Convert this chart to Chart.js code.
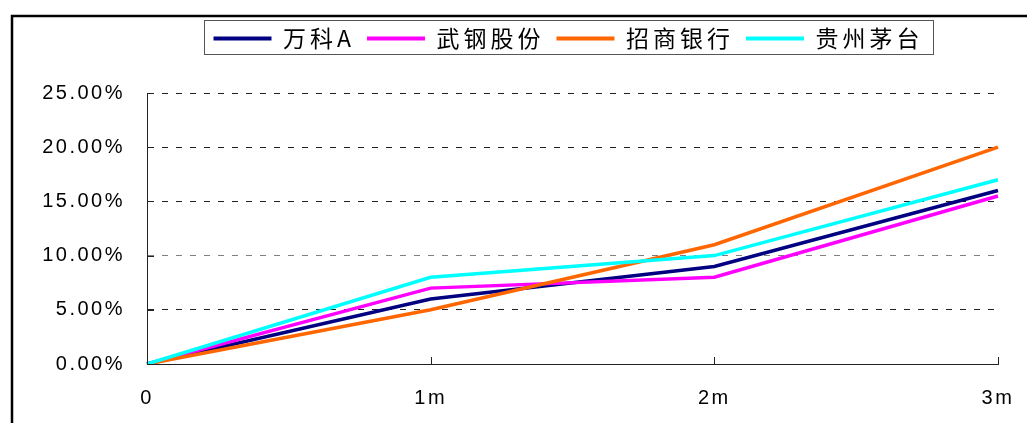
<!DOCTYPE html>
<html>
<head>
<meta charset="utf-8">
<script src="https://cdn.jsdelivr.net/npm/chart.js@4/dist/chart.umd.min.js"></script>
<style>
  html, body { margin: 0; padding: 0; background: #fff; }
</style>
</head>
<body>
<canvas id="grafico" width="1029" height="423"></canvas>
<script>
// dados (em %)
const categorias = ['0', '1m', '2m', '3m'];
const nomes = ['万科A', '武钢股份', '招商银行', '贵州茅台'];
const vanke = [0, 6, 9, 16];
const wugang = [0, 7, 8, 15.5];
const zhaoshang = [0, 5, 11, 20];
const maotai = [0, 8, 10, 17];
const cores = ['#000080', '#ff00ff', '#ff6600', '#00ffff'];
const yMin = 0, yMax = 25, yPasso = 5;

const series = [vanke, wugang, zhaoshang, maotai];

// espacamento entre letras, altura extra e posicao da legenda
const espacamento = {
    id: 'espacamento',
    beforeInit(chart) {
        const fitOriginal = chart.legend.fit;
        chart.legend.fit = function () {
            fitOriginal.call(this);
            this.height += 33;
        };
    },
    beforeLayout(chart) { chart.ctx.letterSpacing = '4px'; },
    afterLayout(chart) {
        const leg = chart.legend;
        leg.left = 139;
        leg.width = leg.right - leg.left;
    },
    beforeDraw(chart) { chart.ctx.letterSpacing = '4px'; },
    afterDatasetsDraw(chart) { chart.ctx.letterSpacing = '2.5px'; }
};

// moldura, caixa da legenda e tracinhos dos eixos
const moldura = {
    id: 'moldura',
    afterDraw(chart) {
        const ctx = chart.ctx;
        const area = chart.chartArea;
        const sx = chart.scales.x, sy = chart.scales.y;
        ctx.save();
        ctx.letterSpacing = '0px';

        ctx.strokeStyle = '#000';
        ctx.lineWidth = 2.5;
        ctx.beginPath();
        ctx.moveTo(12, 423);
        ctx.lineTo(12, 16);
        ctx.lineTo(1027, 16);
        ctx.stroke();

        const caixas = chart.legend.legendHitBoxes;
        if (caixas && caixas.length) {
            const p = caixas[0], u = caixas[caixas.length - 1];
            const x1 = Math.round(p.left - 10) + 0.5;
            const x2 = Math.round(u.left + u.width + 10) + 0.5;
            const y1 = Math.round(p.top - 7) + 0.5;
            const y2 = Math.round(p.top + p.height + 4) + 0.5;
            ctx.strokeStyle = '#555';
            ctx.lineWidth = 1;
            ctx.strokeRect(x1, y1, x2 - x1, y2 - y1);
        }

        ctx.strokeStyle = '#222';
        ctx.lineWidth = 1;
        ctx.beginPath();
        sy.ticks.forEach((t, i) => {
            const py = Math.round(sy.getPixelForTick(i)) + 0.5;
            ctx.moveTo(area.left, py);
            ctx.lineTo(area.left + 7, py);
        });
        sx.ticks.forEach((t, i) => {
            const px = Math.round(sx.getPixelForTick(i)) + 0.5;
            ctx.moveTo(px, area.bottom);
            ctx.lineTo(px, area.bottom - 7);
        });
        ctx.stroke();
        ctx.restore();
    }
};

const ctx = document.getElementById('grafico');

new Chart(ctx, {
    type: 'line',
    data: {
        labels: categorias,
        datasets: series.map((valores, i) => ({
            label: nomes[i],
            data: valores,
            borderColor: cores[i],
            backgroundColor: cores[i],
            borderWidth: 3.5,
            pointRadius: 0,
            tension: 0,
            fill: false,
            order: series.length - 1 - i
        }))
    },
    options: {
        responsive: false,
        animation: false,
        devicePixelRatio: 1,
        layout: { padding: { left: 0, right: 31, top: 15, bottom: 0 } },
        plugins: {
            tooltip: { enabled: false },
            legend: {
                position: 'top',
                labels: {
                    boxWidth: 58,
                    boxHeight: 4,
                    padding: 12,
                    color: '#000',
                    font: { family: "'Noto Sans CJK SC', sans-serif", size: 23 },
                    sort: (a, b) => a.datasetIndex - b.datasetIndex,
                    generateLabels(chart) {
                        return Chart.defaults.plugins.legend.labels.generateLabels(chart)
                            .map(l => Object.assign(l, { lineWidth: 0 }));
                    }
                }
            }
        },
        scales: {
            x: {
                grid: { drawOnChartArea: false, drawTicks: false },
                border: { display: true, color: '#222', width: 1 },
                ticks: {
                    z: 1,
                    color: '#000',
                    padding: 22,
                    maxRotation: 0,
                    autoSkip: false,
                    font: { family: "'Liberation Sans', Arial, sans-serif", size: 20 }
                },
                afterFit(s) {
                    s.height = 59;
                    s.paddingLeft = 0;
                    s.paddingRight = 0;
                }
            },
            y: {
                min: yMin,
                max: yMax,
                grid: {
                    drawTicks: false,
                    lineWidth: 1,
                    color: c => {
                        const v = c.tick ? c.tick.value : null;
                        if (v === 0) return 'rgba(0,0,0,0)';
                        return v === 10 ? '#808080' : '#222';
                    }
                },
                border: { display: true, color: '#222', width: 1, dash: [6, 8] },
                ticks: {
                    z: 1,
                    stepSize: yPasso,
                    color: '#000',
                    padding: 22,
                    font: { family: "'Liberation Sans', Arial, sans-serif", size: 20 },
                    callback: v => v.toFixed(2) + '%'
                },
                afterFit(s) {
                    s.width = 147;
                    s.paddingTop = 0;
                    s.paddingBottom = 0;
                }
            }
        }
    },
    plugins: [espacamento, moldura]
});
</script>
</body>
</html>
